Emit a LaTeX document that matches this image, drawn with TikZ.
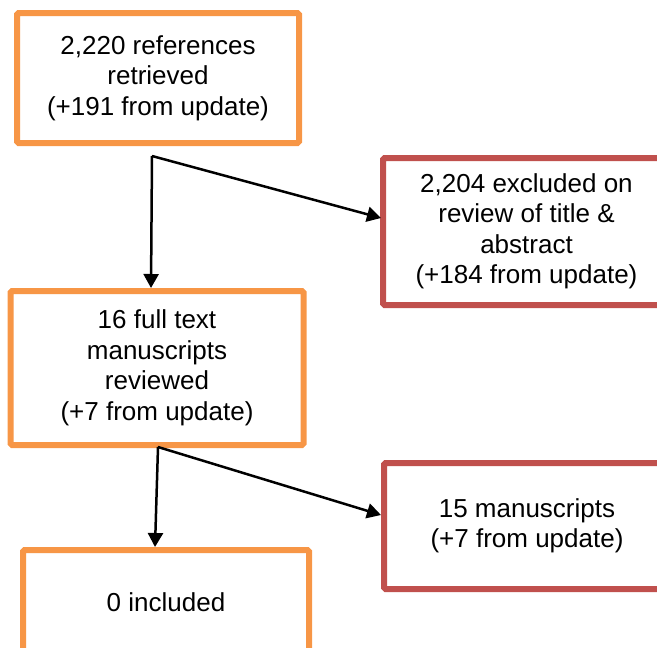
\documentclass[tikz,border=0pt]{standalone}
\usepackage{fontspec}
\setmainfont{Liberation Sans}
\usetikzlibrary{arrows.meta}
\definecolor{boxorange}{HTML}{F79646}
\definecolor{boxred}{HTML}{C0504D}
\tikzset{
  flowbox/.style={draw, line width=6pt, rounded corners=1.5pt, fill=white, align=center,
    inner sep=0pt, font=\fontsize{26}{30.5}\selectfont},
  okbox/.style={flowbox, draw=boxorange},
  exbox/.style={flowbox, draw=boxred},
  flowarrow/.style={line width=2.5pt, -{Triangle[length=14pt,width=15pt]}}
}
\begin{document}
\begin{tikzpicture}[x=1pt,y=-1pt]
\useasboundingbox (0,0) rectangle (657,648);
\clip (0,0) rectangle (657,648);
\node[okbox, minimum width=282pt, minimum height=130pt] (b1) at (158,78)
  {2,220 references\\retrieved\\(+191 from update)};
\node[exbox, minimum width=287pt, minimum height=147pt] (b2) at (526.5,231.5)
  {2,204 excluded on\\review of title \&\\abstract\\(+184 from update)};
\node[okbox, minimum width=293pt, minimum height=154pt] (b3) at (157,368)
  {16 full text\\manuscripts\\reviewed\\(+7 from update)};
\node[exbox, minimum width=286pt, minimum height=126pt] (b4) at (527,526)
  {15 manuscripts\\(+7 from update)};
\node[okbox, minimum width=286pt, minimum height=104pt] (b5) at (166,602)
  {0 included};
\coordinate (c1) at (152,156);
\coordinate (t1) at (151,288);
\coordinate (t2) at (381,218);
\coordinate (c2) at (158,447);
\coordinate (t3) at (155,547);
\coordinate (t4) at (381,515);
\draw[flowarrow] (c1) -- (t1);
\draw[flowarrow] (c1) -- (t2);
\draw[flowarrow] (c2) -- (t3);
\draw[flowarrow] (c2) -- (t4);
\end{tikzpicture}
\end{document}
